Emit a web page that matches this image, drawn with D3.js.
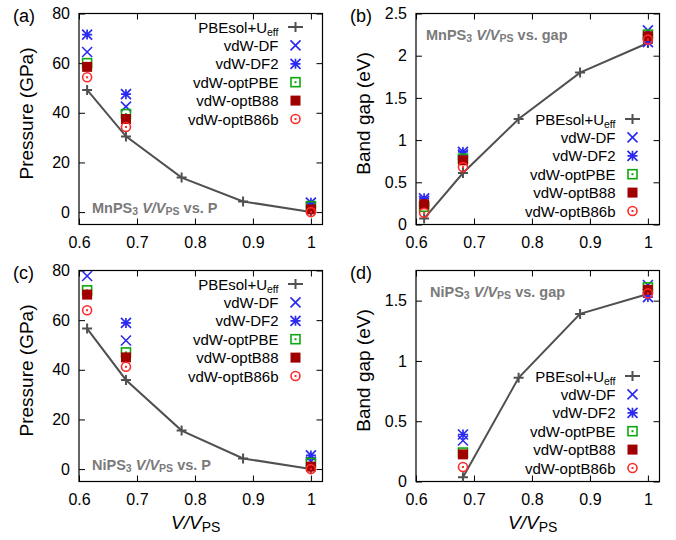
<!DOCTYPE html>
<html><head><meta charset="utf-8">
<script src="https://cdn.jsdelivr.net/npm/d3@7"></script>
<style>
body{margin:0;background:#fff;}
text{font-family:"Liberation Sans",Arial,Helvetica,sans-serif;}
</style></head>
<body><svg id="c" width="676" height="540"></svg>
<script>
// ---------- data ----------
const seriesNames = ["PBEsol+U", "vdW-DF", "vdW-DF2", "vdW-optPBE", "vdW-optB88", "vdW-optB86b"];
const xPBE = [0.614, 0.681, 0.777, 0.883, 1.0];
const xVdwMn = [0.614, 0.681, 1.0];
const xPBENiGap = [0.681, 0.777, 0.883, 1.0];
const xVdwNiGap = [0.681, 1.0];

// (a) MnPS3 pressure (GPa)
const pbeMnP = [49.2, 30.5, 13.9, 4.3, 0];
const dfMnP = [64.5, 42.5, 2.0];
const df2MnP = [71.5, 47.5, 3.8];
const optPBEMnP = [60.0, 39.5, 2.4];
const optB88MnP = [58.5, 37.5, 1.1];
const optB86bMnP = [54.3, 34.3, 0.0];

// (b) MnPS3 band gap (eV)
const pbeMnG = [0.07, 0.61, 1.25, 1.80, 2.15];
const dfMnG = [0.28, 0.83, 2.30];
const df2MnG = [0.31, 0.86, 2.16];
const optPBEMnG = [0.21, 0.78, 2.25];
const optB88MnG = [0.24, 0.76, 2.23];
const optB86bMnG = [0.14, 0.68, 2.19];

// (c) NiPS3 pressure (GPa)
const xVdwNi = [0.614, 0.681, 1.0];
const pbeNiP = [56.6, 35.9, 15.5, 4.3, 0];
const dfNiP = [77.8, 51.8, 3.0];
const df2NiP = [86.0, 58.9, 5.5];
const optPBENiP = [72.0, 47.0, 2.5];
const optB88NiP = [70.3, 45.0, 1.0];
const optB86bNiP = [64.0, 41.2, 0.0];

// (d) NiPS3 band gap (eV)
const pbeNiG = [0.035, 0.86, 1.39, 1.555];
const dfNiG = [0.34, 1.63];
const df2NiG = [0.39, 1.53];
const optPBENiG = [0.24, 1.61];
const optB88NiG = [0.225, 1.59];
const optB86bNiG = [0.12, 1.56];

const xTicks = [0.6, 0.7, 0.8, 0.9, 1];
const pTicks = [0, 20, 40, 60, 80];
const gTicksMn = [0, 0.5, 1, 1.5, 2, 2.5];
const gTicksNi = [0, 0.5, 1, 1.5];

// ---------- styles ----------
const colPBE = "#505050", colBlue = "#2a2af0", colGreen = "#10a810", colDark = "#a00000", colRed = "#ff2a2a";
const markerTypes = ["plus", "x", "star", "sqOpen", "sqFill", "circ"];
const markerCols = [colPBE, colBlue, colBlue, colGreen, colDark, colRed];

const svg = d3.select("#c");
const W = 243.5, H = 211;

function drawMarker(g, type, cx, cy, color) {
  const s = 5;
  if (type === "plus") {
    g.append("path").attr("d", `M${cx - s},${cy}H${cx + s}M${cx},${cy - s}V${cy + s}`)
      .attr("stroke", color).attr("stroke-width", 2).attr("fill", "none");
  } else if (type === "x") {
    g.append("path").attr("d", `M${cx - s},${cy - s}L${cx + s},${cy + s}M${cx - s},${cy + s}L${cx + s},${cy - s}`)
      .attr("stroke", color).attr("stroke-width", 1.6).attr("fill", "none");
  } else if (type === "star") {
    g.append("path").attr("d", `M${cx - s},${cy - s}L${cx + s},${cy + s}M${cx - s},${cy + s}L${cx + s},${cy - s}M${cx - s},${cy}H${cx + s}M${cx},${cy - s}V${cy + s}`)
      .attr("stroke", color).attr("stroke-width", 1.7).attr("fill", "none");
  } else if (type === "sqOpen") {
    g.append("rect").attr("x", cx - s + 0.5).attr("y", cy - s + 0.5).attr("width", 2 * s - 1).attr("height", 2 * s - 1)
      .attr("stroke", color).attr("stroke-width", 1.6).attr("fill", "none");
    g.append("rect").attr("x", cx - 1).attr("y", cy - 1).attr("width", 2).attr("height", 2).attr("fill", color);
  } else if (type === "sqFill") {
    g.append("rect").attr("x", cx - s).attr("y", cy - s).attr("width", 2 * s).attr("height", 2 * s).attr("fill", color);
  } else if (type === "circ") {
    g.append("circle").attr("cx", cx).attr("cy", cy).attr("r", s - 0.5)
      .attr("stroke", color).attr("stroke-width", 1.6).attr("fill", "none");
    g.append("rect").attr("x", cx - 1).attr("y", cy - 1).attr("width", 2).attr("height", 2).attr("fill", color);
  }
}

function panel(opt) {
  const L = opt.left, T = opt.top;
  const x = d3.scaleLinear().domain([0.6, 1.02]).range([L, L + W]);
  const y = d3.scaleLinear().domain(opt.yDomain).range([T + H, T]);
  const id = "clip" + opt.tag;
  svg.append("clipPath").attr("id", id).append("rect").attr("x", L).attr("y", T).attr("width", W).attr("height", H);

  const fmt = opt.fmt;
  const gl = svg.append("g").attr("transform", `translate(${L},0)`)
    .call(d3.axisLeft(y).tickValues(opt.yTicks).tickSize(-6).tickPadding(9).tickFormat(fmt));
  const gr = svg.append("g").attr("transform", `translate(${L + W},0)`)
    .call(d3.axisRight(y).tickValues(opt.yTicks).tickSize(-6).tickFormat(""));
  const gb = svg.append("g").attr("transform", `translate(0,${T + H})`)
    .call(d3.axisBottom(x).tickValues(xTicks).tickSize(-6).tickPadding(12).tickFormat(d3.format("")));
  const gt = svg.append("g").attr("transform", `translate(0,${T})`)
    .call(d3.axisTop(x).tickValues(xTicks).tickSize(-6).tickFormat(""));
  [gl, gr, gb, gt].forEach(g => {
    g.select(".domain").remove();
    g.selectAll("line").attr("stroke", "#000").attr("stroke-width", 1);
    g.selectAll("text").attr("font-size", 16).attr("fill", "#000")
      .attr("font-family", "'Liberation Sans',Arial,sans-serif");
  });
  gb.selectAll("text").attr("dy", "0.71em");
  svg.append("rect").attr("x", L).attr("y", T).attr("width", W).attr("height", H)
    .attr("fill", "none").attr("stroke", "#000").attr("stroke-width", 1.2);

  // data
  const dg = svg.append("g").attr("clip-path", `url(#${id})`);
  const pbe = opt.series[0];
  const line = d3.line().x(d => x(d[0])).y(d => y(d[1]));
  const pts = pbe.x.map((v, i) => [v, pbe.y[i]]);
  dg.append("path").attr("d", line(pts)).attr("fill", "none").attr("stroke", colPBE).attr("stroke-width", 2);
  pts.forEach(p => drawMarker(dg, "plus", x(p[0]), y(p[1]), colPBE));
  for (let k = 1; k < opt.series.length; k++) {
    const s = opt.series[k];
    s.y.forEach((v, i) => drawMarker(dg, markerTypes[k], x(s.x[i]), y(v), markerCols[k]));
  }

  // legend
  const ly0 = T + opt.legendOff;
  const tx = L + 199.5, mx = L + 216.5;
  seriesNames.forEach((name, i) => {
    const yy = ly0 + i * 18.4;
    const t = svg.append("text").attr("x", tx).attr("y", yy + 5.5).attr("text-anchor", "end")
      .attr("font-size", 15).attr("fill", "#000");
    t.append("tspan").text(name);
    if (i === 0) t.append("tspan").attr("font-size", 10.5).attr("dy", 3).text("eff");
    if (i === 0) {
      svg.append("line").attr("x1", mx - 7.5).attr("x2", mx + 7.5).attr("y1", yy).attr("y2", yy)
        .attr("stroke", colPBE).attr("stroke-width", 2);
      drawMarker(svg, "plus", mx, yy, colPBE);
    } else {
      drawMarker(svg, markerTypes[i], mx, yy, markerCols[i]);
    }
  });

  // annotation
  const a = svg.append("text").attr("x", L + opt.annX).attr("y", T + opt.annY)
    .attr("font-size", 14.5).attr("font-weight", "bold").attr("fill", "#7a7a7a");
  a.append("tspan").text(opt.mat);
  a.append("tspan").attr("font-size", 10.5).attr("dy", 2).text("3");
  a.append("tspan").attr("dy", -2).text(" ");
  a.append("tspan").attr("font-style", "italic").text("V/V");
  a.append("tspan").attr("font-size", 10.5).attr("dy", 2).text("PS");
  a.append("tspan").attr("dy", -2).text(opt.annTail);

  // panel letter
  svg.append("text").attr("x", L - 66).attr("y", T + 8).attr("font-size", 18).attr("fill", "#000").text(opt.letter);

  // y label
  svg.append("text").attr("transform", `translate(${L - 46},${T + 100}) rotate(-90)`)
    .attr("text-anchor", "middle").attr("font-size", 19).attr("fill", "#000").text(opt.ylabel);

  if (opt.xlabel) {
    const xl = svg.append("text").attr("x", L + W / 2 - 5).attr("y", T + H + 47)
      .attr("text-anchor", "middle").attr("font-size", 19).attr("fill", "#000");
    xl.append("tspan").attr("font-style", "italic").text("V/V");
    xl.append("tspan").attr("font-size", 14).attr("dy", 3).text("PS");
  }
}

function mk(xp, yp, xv, ys) {
  return [{x: xp, y: yp}].concat(ys.map(v => ({x: xv, y: v})));
}
const fmtG = d => d3.format("")(d);

panel({tag: "a", letter: "(a)", left: 79, top: 13.5, yDomain: [-5, 80], yTicks: pTicks, fmt: fmtG,
  series: mk(xPBE, pbeMnP, xVdwMn, [dfMnP, df2MnP, optPBEMnP, optB88MnP, optB86bMnP]),
  legendOff: 13.5, mat: "MnPS", annTail: " vs. P", annX: 13, annY: 199, ylabel: "Pressure (GPa)"});
panel({tag: "b", letter: "(b)", left: 416, top: 13.5, yDomain: [0, 2.5], yTicks: gTicksMn, fmt: fmtG,
  series: mk(xPBE, pbeMnG, xVdwMn, [dfMnG, df2MnG, optPBEMnG, optB88MnG, optB86bMnG]),
  legendOff: 105.5, mat: "MnPS", annTail: " vs. gap", annX: 10, annY: 26.5, ylabel: "Band gap (eV)"});
panel({tag: "c", letter: "(c)", left: 79, top: 270.5, yDomain: [-5, 80], yTicks: pTicks, fmt: fmtG,
  series: mk(xPBE, pbeNiP, xVdwNi, [dfNiP, df2NiP, optPBENiP, optB88NiP, optB86bNiP]),
  legendOff: 13.5, mat: "NiPS", annTail: " vs. P", annX: 13, annY: 199, ylabel: "Pressure (GPa)", xlabel: true});
panel({tag: "d", letter: "(d)", left: 416, top: 270.5, yDomain: [0, 1.75], yTicks: gTicksNi, fmt: fmtG,
  series: mk(xPBENiGap, pbeNiG, xVdwNiGap, [dfNiG, df2NiG, optPBENiG, optB88NiG, optB86bNiG]),
  legendOff: 105.5, mat: "NiPS", annTail: " vs. gap", annX: 14, annY: 26, ylabel: "Band gap (eV)", xlabel: true});
</script></body></html>
